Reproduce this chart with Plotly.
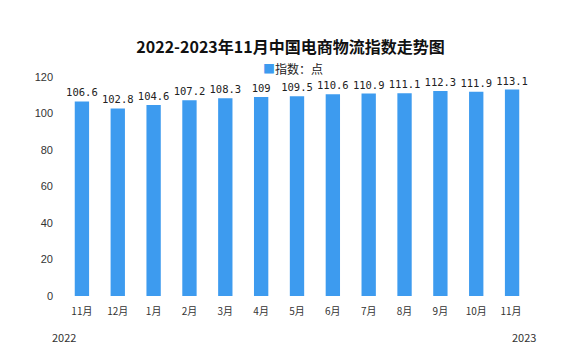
import plotly.graph_objects as go

categories = ["11月", "12月", "1月", "2月", "3月", "4月", "5月", "6月", "7月", "8月", "9月", "10月", "11月 "]
values = [106.6, 102.8, 104.6, 107.2, 108.3, 109, 109.5, 110.6, 110.9, 111.1, 112.3, 111.9, 113.1]
labels = ["106.6", "102.8", "104.6", "107.2", "108.3", "109", "109.5", "110.6", "110.9", "111.1", "112.3", "111.9", "113.1"]
series_name = "指数：点"
title = "2022-2023年11月中国电商物流指数走势图"
years = ["2022", "2023"]
bar_color = "#3d9bef"

fig = go.Figure()
fig.add_trace(go.Bar(
    x=categories, y=values, name=series_name,
    marker=dict(color=bar_color, line=dict(width=0)),
    text=labels, textposition="outside", cliponaxis=False, constraintext="none",
    textfont=dict(family="DejaVu Sans Mono", size=10.5, color="#222"),
    showlegend=False,
))

fig.update_layout(
    width=581, height=353,
    margin=dict(l=64, r=51, t=77, b=57),
    paper_bgcolor="white", plot_bgcolor="white",
    bargap=0.6,
    title=dict(text="<b>" + title + "</b>", x=0.5, xanchor="center", y=1 - 47/353, yanchor="middle",
               font=dict(family="Noto Sans CJK SC", size=16, color="#111")),
    xaxis=dict(showline=False, ticks="", ticklabelstandoff=8,
               tickfont=dict(family="Noto Sans CJK SC", size=10, color="#333")),
    yaxis=dict(range=[0, 120], dtick=20, showgrid=False, zeroline=False, showline=False,
               ticks="", ticklabelstandoff=10,
               tickfont=dict(family="Liberation Sans", size=11, color="#333")),
    font=dict(family="Noto Sans CJK SC"),
)

fig.add_annotation(text="<span style='color:" + bar_color + "'>■</span>" + series_name,
                   x=(261 - 64) / 466, xref="paper", xanchor="left",
                   y=1 + 9/219, yref="paper", yanchor="middle", showarrow=False,
                   font=dict(family="Noto Sans CJK SC", size=12, color="#222"))
fig.add_annotation(text=years[0], x=0, xref="paper", xanchor="left", xshift=-14,
                   y=-41/219, yref="paper", yanchor="middle", showarrow=False,
                   font=dict(family="Noto Sans CJK SC", size=11, color="#333"))
fig.add_annotation(text=years[1], x=1, xref="paper", xanchor="right", xshift=8,
                   y=-41/219, yref="paper", yanchor="middle", showarrow=False,
                   font=dict(family="Noto Sans CJK SC", size=11, color="#333"))

fig.write_html("out.html")
